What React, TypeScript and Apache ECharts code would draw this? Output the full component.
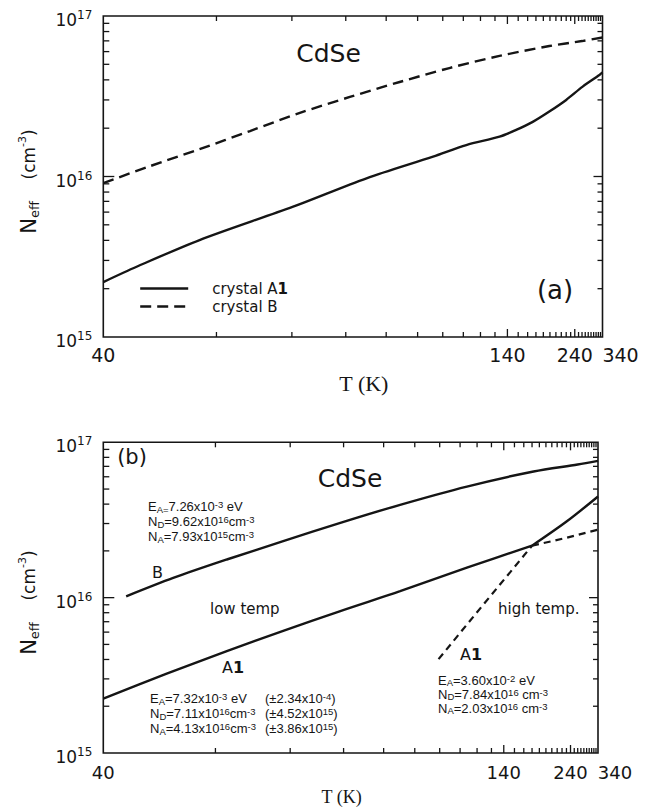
import { useEffect, useRef } from 'react';
import * as echarts from 'echarts';

const INK = '#151515';
const SANS = 'DejaVu Sans';
const NARROW = 'Liberation Sans';
const SERIF = 'Liberation Serif';

// ---- axis ticks ----
const xLabelTemps = [40, 140, 240, 340];
const xMajorTemps = [140, 240];
const xMinorTemps = [50, 60, 70, 80, 90, 100, 110, 120, 130, 150, 160, 170, 180, 190, 200, 210, 220, 230, 250, 260, 270, 280, 290, 300, 310, 320, 330];
const yLabelDecades = [15, 16, 17];
const yMajorNeff = [1e16];
const yMinorMantissas = [2, 3, 4, 5, 6, 7, 8, 9];

// ---- panel (a) ----
const tempA1a = [40, 42.5, 48.2, 60.2, 74.8, 95.9, 111.6, 133.5, 148, 166, 189, 220, 262, 325, 340];
const neffA1a = [2.2e15, 2.74e15, 4.02e15, 6.49e15, 9.75e15, 1.33e16, 1.57e16, 1.77e16, 1.95e16, 2.19e16, 2.54e16, 3.0e16, 3.63e16, 4.29e16, 4.45e16];
const tempBa = [40, 43.6, 48.2, 54, 61.3, 70.9, 84, 103, 133.5, 189, 260, 340];
const neffBa = [9.1e15, 1.16e16, 1.48e16, 1.92e16, 2.49e16, 3.13e16, 3.88e16, 4.74e16, 5.64e16, 6.5e16, 6.98e16, 7.35e16];

// ---- panel (b) ----
const tempBb = [41.7, 45.7, 51.3, 58.9, 69.3, 85, 113.8, 172, 260, 340];
const neffBb = [1.02e16, 1.34e16, 1.76e16, 2.31e16, 3.03e16, 3.96e16, 5.19e16, 6.49e16, 7.2e16, 7.6e16];
const tempA1bLow = [40, 45.1, 51.3, 58.9, 69.3, 85, 113.8, 170];
const neffA1bLow = [2.24e15, 3.24e15, 4.53e15, 6.11e15, 8.2e15, 1.1e16, 1.56e16, 2.16e16];
const tempA1bHigh = [170, 231, 340];
const neffA1bHigh = [2.16e16, 3.1e16, 4.48e16];
const tempFitLowExt = [170, 231, 340];
const neffFitLowExt = [2.16e16, 2.43e16, 2.74e16];
const tempFitHigh = [99.5, 124.3, 145.9, 170];
const neffFitHigh = [4.02e15, 9.06e15, 1.46e16, 2.16e16];

const inv = (t: number) => -1 / t;
const pts = (T: number[], N: number[]) => T.map((t, i) => [inv(t), N[i]]);
const yMinorNeff = [15, 16].flatMap((d) => yMinorMantissas.map((k) => k * Math.pow(10, d)));

// tick items: [x, y, kind(0 = T tick, 1 = N tick), inner length bottom/left, inner length top/right]
const tickData = [
  ...xMinorTemps.map((t) => [inv(t), 1e16, 0, 5, 5]),
  ...xMajorTemps.map((t) => [inv(t), 1e16, 0, 8, 8]),
  ...yMinorNeff.map((n) => [inv(40), n, 1, 6, 5]),
  ...yMajorNeff.map((n) => [inv(40), n, 1, 11, 9]),
];

function tickSeries(xi: number, yi: number) {
  return {
    type: 'custom', name: 'ticks', xAxisIndex: xi, yAxisIndex: yi, silent: true, clip: false,
    data: tickData,
    renderItem: (params: any, api: any) => {
      const kind = api.value(2);
      const l1 = api.value(3);
      const l2 = api.value(4);
      const p = api.coord([api.value(0), api.value(1)]);
      const cs = params.coordSys;
      const style = { stroke: INK, lineWidth: 1.3 };
      if (kind === 0) {
        const yb = cs.y + cs.height;
        return {
          type: 'group', children: [
            { type: 'line', shape: { x1: p[0], y1: yb, x2: p[0], y2: yb - l1 }, style },
            { type: 'line', shape: { x1: p[0], y1: cs.y, x2: p[0], y2: cs.y + l2 }, style },
          ],
        };
      }
      const xr = cs.x + cs.width;
      return {
        type: 'group', children: [
          { type: 'line', shape: { x1: cs.x, y1: p[1], x2: cs.x + l1, y2: p[1] }, style },
          { type: 'line', shape: { x1: xr, y1: p[1], x2: xr - l2, y2: p[1] }, style },
        ],
      };
    },
  };
}

function xAxisFor(g: number, fs: number, margin: number, nameFs: number, namePad: number[]) {
  return {
    gridIndex: g, type: 'value', min: inv(40), max: inv(340), position: 'bottom',
    splitLine: { show: false }, axisLine: { show: false, onZero: false }, axisTick: { show: false },
    axisLabel: {
      show: true, customValues: xLabelTemps.map(inv), margin, color: INK, fontFamily: SANS, fontSize: fs,
      formatter: (v: number) => {
        const t = Math.round(-1 / v);
        return t === 340 ? `{r|${t}}` : `${t}`;
      },
      rich: { r: { fontSize: fs, fontFamily: SANS, color: INK, padding: [0, 0, 0, Math.round(fs * 1.9)] } },
    },
    name: 'T (K)', nameLocation: 'middle', nameGap: 35,
    nameTextStyle: { fontFamily: SERIF, fontSize: nameFs, color: INK, padding: namePad },
  };
}

function yAxesFor(g: number, nameGap: number) {
  return [
    { gridIndex: g, type: 'log', logBase: 10, min: 1e15, max: 1e17, show: false },
    {
      gridIndex: g, type: 'value', min: 15, max: 17, position: 'left',
      splitLine: { show: false }, axisLine: { show: false, onZero: false }, axisTick: { show: false },
      axisLabel: {
        show: true, customValues: yLabelDecades, margin: 11, padding: [8, 0, 0, 0],
        formatter: (v: number) => `{b|10}{s|${Math.round(v)}}`,
        rich: {
          b: { fontSize: 17, lineHeight: 22, fontFamily: SANS, color: INK },
          s: { fontSize: 12, lineHeight: 12, verticalAlign: 'top', fontFamily: SANS, color: INK },
        },
      },
      name: '{n|N}{e|eff}{p|    (cm}{u|-3}{p|)}', nameLocation: 'middle', nameRotate: 90, nameGap,
      nameTextStyle: {
        color: INK, padding: [0, 10, 0, 0],
        rich: {
          n: { fontSize: 21, lineHeight: 24, fontFamily: SANS, color: INK },
          e: { fontSize: 13, lineHeight: 13, verticalAlign: 'bottom', fontFamily: SANS, color: INK },
          p: { fontSize: 17, lineHeight: 24, fontFamily: SANS, color: INK },
          u: { fontSize: 11, lineHeight: 11, verticalAlign: 'top', fontFamily: SANS, color: INK },
        },
      },
    },
  ];
}

const richBlock = {
  t: { fontSize: 13, fontFamily: NARROW, lineHeight: 15, color: INK },
  sb: { fontSize: 9.5, fontFamily: NARROW, lineHeight: 9, verticalAlign: 'bottom', color: INK },
  sp: { fontSize: 9.5, fontFamily: NARROW, lineHeight: 9, verticalAlign: 'top', color: INK },
};
const richBlockTight = {
  ...richBlock,
  t: { fontSize: 13, fontFamily: NARROW, lineHeight: 14, color: INK },
};
const richA1 = {
  a: { fontSize: 16, fontFamily: SANS, color: INK },
  k: { fontSize: 16, fontFamily: SANS, fontWeight: 'bold', color: INK },
};

function txt(x: number, y: number, text: string, fontSize: number, opts: any = {}) {
  return {
    type: 'text', x, y, silent: true,
    style: {
      text, fill: INK, fontFamily: SANS, fontSize,
      align: opts.align || 'left', verticalAlign: opts.verticalAlign || 'middle',
      rich: opts.rich,
    },
  };
}

const lineStyleSolid = { color: INK, width: 2.4 };
const gridBox = { show: true, borderColor: INK, borderWidth: 1.6, backgroundColor: 'transparent' };

export default function App() {
  const ref = useRef<HTMLDivElement>(null);
  useEffect(() => {
    if (!ref.current) return;
    const chart = echarts.init(ref.current, null, { renderer: 'svg' });
    const option: any = {
      animation: false,
      backgroundColor: '#ffffff',
      color: [INK],
      grid: [
        { ...gridBox, left: 103.3, top: 16, width: 499.2, height: 321 },
        { ...gridBox, left: 103.3, top: 442.3, width: 494.7, height: 312 },
      ],
      xAxis: [
        xAxisFor(0, 19, 8, 22, [0, 0, 0, 22]),
        xAxisFor(1, 18, 10, 18, [0, 18, 0, 0]),
      ],
      yAxis: [...yAxesFor(0, 62), ...yAxesFor(1, 62)],
      legend: {
        data: ['crystal A1', 'crystal B'],
        orient: 'vertical', left: 134, top: 276,
        itemWidth: 48, itemHeight: 14, itemGap: 3,
        selectedMode: false,
        lineStyle: { width: 2.4 },
        itemStyle: { opacity: 0 },
        formatter: (n: string) => (n === 'crystal A1' ? '{t|crystal A}{k|1}' : '{t|crystal B}'),
        textStyle: {
          color: INK, fontFamily: SANS, fontSize: 15, lineHeight: 15,
          rich: {
            t: { fontSize: 15, lineHeight: 15, fontFamily: SANS, color: INK, padding: [0, 0, 0, 19] },
            k: { fontSize: 15, lineHeight: 15, fontFamily: SANS, fontWeight: 'bold', color: INK },
          },
        },
      },
      series: [
        tickSeries(0, 0),
        tickSeries(1, 2),
        { name: 'crystal A1', type: 'line', xAxisIndex: 0, yAxisIndex: 0, data: pts(tempA1a, neffA1a), symbol: 'none', smooth: 0.3, lineStyle: lineStyleSolid, color: INK },
        { name: 'crystal B', type: 'line', xAxisIndex: 0, yAxisIndex: 0, data: pts(tempBa, neffBa), symbol: 'none', smooth: 0.3, lineStyle: { color: INK, width: 2.4, type: [11, 6] }, color: INK },
        { name: 'B', type: 'line', xAxisIndex: 1, yAxisIndex: 2, data: pts(tempBb, neffBb), symbol: 'none', smooth: 0.3, lineStyle: lineStyleSolid, color: INK },
        { name: 'A1 low temp', type: 'line', xAxisIndex: 1, yAxisIndex: 2, data: pts(tempA1bLow, neffA1bLow), symbol: 'none', smooth: 0.3, lineStyle: lineStyleSolid, color: INK },
        { name: 'A1 high temp', type: 'line', xAxisIndex: 1, yAxisIndex: 2, data: pts(tempA1bHigh, neffA1bHigh), symbol: 'none', smooth: 0.3, lineStyle: lineStyleSolid, color: INK },
        { name: 'low temp fit', type: 'line', xAxisIndex: 1, yAxisIndex: 2, data: pts(tempFitLowExt, neffFitLowExt), symbol: 'none', lineStyle: { color: INK, width: 2.2, type: [7, 5] }, color: INK },
        { name: 'high temp fit', type: 'line', xAxisIndex: 1, yAxisIndex: 2, data: pts(tempFitHigh, neffFitHigh), symbol: 'none', lineStyle: { color: INK, width: 2.2, type: [7, 5] }, color: INK },
      ],
      graphic: [
        // panel (a)
        txt(328.5, 53, 'CdSe', 25, { align: 'center' }),
        txt(555, 290, '(a)', 26, { align: 'center' }),
        // panel (b)
        txt(132, 457, '(b)', 21, { align: 'center' }),
        txt(350, 478, 'CdSe', 25, { align: 'center' }),
        txt(148, 499, [
          '{t|E}{sb|A=}{t|7.26x10}{sp|-3}{t| eV}',
          '{t|N}{sb|D}{t|=9.62x10}{sp|16}{t|cm}{sp|-3}',
          '{t|N}{sb|A}{t|=7.93x10}{sp|15}{t|cm}{sp|-3}',
        ].join('\n'), 13, { verticalAlign: 'top', rich: richBlock }),
        txt(152, 572.5, 'B', 16),
        txt(210, 609, 'low temp', 15),
        txt(222, 667.5, '{a|A}{k|1}', 16, { rich: richA1 }),
        txt(150, 691, [
          '{t|E}{sb|A}{t|=7.32x10}{sp|-3}{t| eV}',
          '{t|N}{sb|D}{t|=7.11x10}{sp|16}{t|cm}{sp|-3}',
          '{t|N}{sb|A}{t|=4.13x10}{sp|16}{t|cm}{sp|-3}',
        ].join('\n'), 13, { verticalAlign: 'top', rich: richBlock }),
        txt(265, 691, [
          '{t|(±2.34x10}{sp|-4}{t|)}',
          '{t|(±4.52x10}{sp|15}{t|)}',
          '{t|(±3.86x10}{sp|15}{t|)}',
        ].join('\n'), 13, { verticalAlign: 'top', rich: richBlock }),
        txt(498, 609, 'high temp.', 15),
        txt(460, 654, '{a|A}{k|1}', 16, { rich: richA1 }),
        txt(438, 673, [
          '{t|E}{sb|A}{t|=3.60x10}{sp|-2}{t| eV}',
          '{t|N}{sb|D}{t|=7.84x10}{sp|16}{t| cm}{sp|-3}',
          '{t|N}{sb|A}{t|=2.03x10}{sp|16}{t| cm}{sp|-3}',
        ].join('\n'), 13, { verticalAlign: 'top', rich: richBlockTight }),
      ],
    };
    chart.setOption(option);
    return () => chart.dispose();
  }, []);
  return (
    <div
      ref={ref}
      style={{ position: 'fixed', left: 0, top: 0, width: 646, height: 807, background: '#fff' }}
    />
  );
}
